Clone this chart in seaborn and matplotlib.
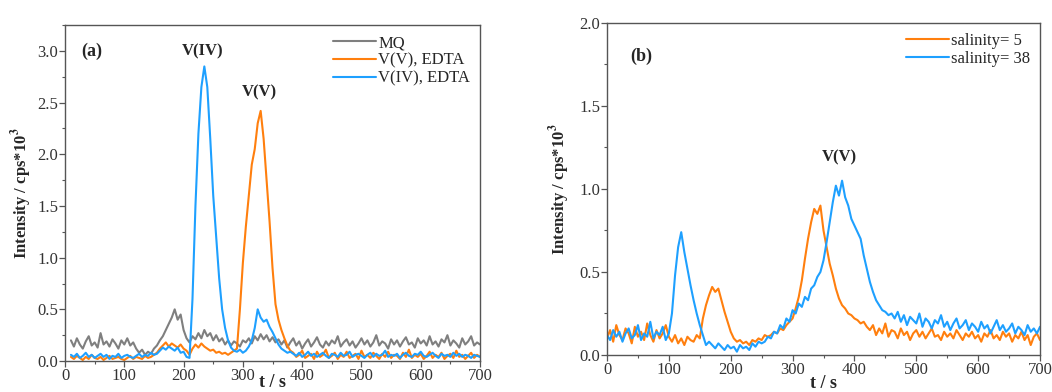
import numpy as np
import pandas as pd
import matplotlib
matplotlib.use("Agg")
import matplotlib.pyplot as plt
import seaborn as sns
from matplotlib.ticker import MultipleLocator

# ---- data ----
# panel (a): time axis, 10 .. 700 s every 5 s
t_a = np.arange(10, 701, 5)

mq = [
    0.20, 0.14, 0.22, 0.16, 0.12, 0.19, 0.24, 0.15, 0.18, 0.13, 0.27, 0.16, 0.19, 0.14, 0.21, 0.17, 0.12, 0.20, 0.16, 0.22, 0.15, 0.18,
    0.12, 0.08, 0.11, 0.06, 0.09, 0.07, 0.12,
    0.15, 0.20, 0.24, 0.30, 0.36, 0.42, 0.50, 0.40, 0.45, 0.30, 0.22,
    0.18, 0.24, 0.21, 0.27, 0.22, 0.30, 0.24, 0.27, 0.20, 0.25, 0.19, 0.22, 0.16, 0.20, 0.15, 0.19, 0.17, 0.14, 0.20,
    0.18, 0.22, 0.17, 0.24, 0.20, 0.26, 0.21, 0.25, 0.19, 0.23, 0.18, 0.21,
    0.16, 0.20, 0.13, 0.18, 0.22, 0.15, 0.19, 0.12, 0.17, 0.21, 0.14, 0.18, 0.23, 0.16, 0.13, 0.19, 0.15, 0.20, 0.17, 0.24,
    0.14, 0.18, 0.21, 0.15, 0.19, 0.13, 0.17, 0.22, 0.16, 0.20, 0.14, 0.18, 0.25, 0.15, 0.19, 0.17, 0.12, 0.21, 0.16, 0.20,
    0.14, 0.19, 0.23, 0.16, 0.18, 0.13, 0.22, 0.17, 0.20, 0.15, 0.24, 0.16, 0.19, 0.14, 0.21, 0.18, 0.25, 0.15, 0.20, 0.17,
    0.13, 0.22, 0.16, 0.19, 0.24, 0.15, 0.18, 0.16,
]

v5_edta = [
    0.04, 0.02, 0.05, 0.03, 0.01, 0.04, 0.02, 0.06, 0.03, 0.02,
    0.04, 0.01, 0.03, 0.05, 0.02, 0.03, 0.04, 0.02, 0.01, 0.03,
    0.05, 0.02, 0.04, 0.03, 0.02, 0.05, 0.03, 0.04, 0.06,
    0.08, 0.12, 0.15, 0.18, 0.14, 0.17, 0.15, 0.13, 0.16, 0.12, 0.10, 0.06,
    0.12, 0.16, 0.13, 0.17, 0.14, 0.12, 0.10, 0.11, 0.08, 0.09, 0.07, 0.08, 0.06, 0.08, 0.10,
    0.12, 0.50, 0.95, 1.30, 1.60, 1.90, 2.05, 2.30, 2.42, 2.15, 1.75, 1.35, 0.90, 0.55, 0.40, 0.30, 0.22, 0.15, 0.10,
    0.08, 0.04, 0.06, 0.10, 0.03, 0.05, 0.07, 0.02, 0.09, 0.04, 0.06, 0.11, 0.03, 0.05, 0.08, 0.02, 0.06, 0.04, 0.09, 0.03,
    0.05, 0.07, 0.02, 0.10, 0.04, 0.06, 0.03, 0.08, 0.05, 0.02, 0.07, 0.04, 0.09, 0.03, 0.06, 0.05, 0.02, 0.08, 0.04, 0.11,
    0.03, 0.06, 0.04, 0.07, 0.02, 0.05, 0.09, 0.03, 0.06, 0.04, 0.08, 0.02, 0.05, 0.07, 0.03, 0.10, 0.04, 0.06, 0.02, 0.05,
    0.08, 0.03, 0.06, 0.04,
]

v4_edta = [
    0.06, 0.04, 0.07, 0.03, 0.05, 0.08, 0.04, 0.06, 0.03, 0.05,
    0.07, 0.04, 0.06, 0.02, 0.05, 0.04, 0.07, 0.03, 0.05, 0.06,
    0.04, 0.03, 0.05, 0.07, 0.04, 0.06, 0.05, 0.08, 0.06,
    0.07, 0.10, 0.13, 0.11, 0.14, 0.12, 0.10, 0.13, 0.08, 0.09, 0.04, 0.03,
    0.60, 1.50, 2.20, 2.65, 2.85, 2.65, 2.15, 1.60, 1.20, 0.80, 0.50, 0.32, 0.20, 0.13, 0.10,
    0.09, 0.11, 0.08, 0.10, 0.14, 0.20, 0.32, 0.50, 0.42, 0.38, 0.40, 0.33, 0.28, 0.22, 0.16, 0.12, 0.10, 0.08, 0.09,
    0.07, 0.05, 0.08, 0.04, 0.06, 0.09, 0.05, 0.07, 0.04, 0.06, 0.08, 0.05, 0.03, 0.07, 0.06, 0.04, 0.08, 0.05, 0.06, 0.09,
    0.04, 0.06, 0.07, 0.05, 0.03, 0.06, 0.08, 0.04, 0.07, 0.05, 0.06, 0.10, 0.04, 0.06, 0.05, 0.07, 0.03, 0.06, 0.08, 0.05,
    0.04, 0.07, 0.06, 0.09, 0.05, 0.04, 0.06, 0.08, 0.05, 0.03, 0.07, 0.05, 0.06, 0.04, 0.08, 0.05, 0.07, 0.04, 0.06, 0.05,
    0.03, 0.06, 0.05, 0.04,
]

# panel (b): time axis, 0 .. 700 s every 5 s
t_b = np.arange(0, 701, 5)

sal5 = [
    0.10, 0.15, 0.08, 0.18, 0.12, 0.09, 0.16, 0.13, 0.07, 0.17, 0.11, 0.14, 0.09, 0.19, 0.12, 0.08, 0.15, 0.10, 0.13, 0.18, 0.11,
    0.08, 0.12, 0.07, 0.10, 0.06, 0.11, 0.09, 0.08, 0.12, 0.10,
    0.22, 0.30, 0.36, 0.41, 0.38, 0.40, 0.33, 0.26, 0.20, 0.14,
    0.10, 0.08, 0.09, 0.07, 0.08, 0.06, 0.09, 0.08, 0.10, 0.09, 0.12, 0.11,
    0.12, 0.14, 0.13, 0.16, 0.15, 0.18, 0.20, 0.22,
    0.28, 0.35, 0.45, 0.58, 0.70, 0.80, 0.88, 0.85, 0.90, 0.75, 0.65, 0.55, 0.48, 0.40, 0.34, 0.30, 0.28, 0.25, 0.24, 0.22, 0.21, 0.19, 0.20, 0.17,
    0.15, 0.18, 0.12, 0.16, 0.13, 0.19, 0.11, 0.15, 0.14, 0.10, 0.16, 0.12, 0.14, 0.09, 0.13, 0.15, 0.11, 0.14, 0.10, 0.13,
    0.16, 0.11, 0.12, 0.09, 0.14, 0.11, 0.13, 0.10, 0.15, 0.12, 0.09, 0.13, 0.11, 0.14, 0.10, 0.12, 0.08, 0.13, 0.11, 0.15,
    0.10, 0.12, 0.09, 0.14, 0.11, 0.13, 0.08, 0.12, 0.10, 0.14, 0.09, 0.12, 0.06, 0.11, 0.13, 0.09,
]

sal38 = [
    0.12, 0.09, 0.15, 0.11, 0.14, 0.08, 0.13, 0.16, 0.10, 0.12, 0.18, 0.09, 0.13, 0.11, 0.20, 0.10, 0.14, 0.12, 0.17, 0.09, 0.13,
    0.25, 0.48, 0.65, 0.74, 0.62, 0.52, 0.42, 0.33, 0.25, 0.18, 0.12, 0.06,
    0.08, 0.06, 0.04, 0.07, 0.05, 0.03, 0.06, 0.04, 0.05, 0.02, 0.06, 0.04, 0.05, 0.03, 0.07, 0.05, 0.08, 0.07,
    0.08, 0.11, 0.10, 0.14, 0.13, 0.18, 0.16, 0.22, 0.20, 0.27, 0.25, 0.31, 0.29, 0.35, 0.33, 0.40, 0.42, 0.47, 0.50, 0.57,
    0.68, 0.80, 0.92, 1.02, 0.96, 1.05, 0.95, 0.90, 0.82, 0.78, 0.74, 0.70, 0.60, 0.52, 0.44, 0.38, 0.33, 0.30, 0.27, 0.26, 0.24, 0.25,
    0.22, 0.26, 0.20, 0.24, 0.18, 0.23, 0.21, 0.19, 0.25, 0.17, 0.22, 0.20, 0.16, 0.21, 0.19, 0.24, 0.17, 0.20, 0.15, 0.19,
    0.22, 0.16, 0.18, 0.21, 0.15, 0.19, 0.17, 0.14, 0.20, 0.16, 0.18, 0.13, 0.17, 0.21, 0.15, 0.18, 0.14, 0.16, 0.19, 0.13,
    0.17, 0.15, 0.12, 0.18, 0.14, 0.16, 0.13, 0.17,
]

labels_a = ["MQ", "V(V), EDTA", "V(IV), EDTA"]
labels_b = ["salinity= 5", "salinity= 38"]

GREY = "#7f7f7f"
ORANGE = "#ff7f0e"
BLUE = "#1ea0ff"

# ---- style ----
sns.set_style("ticks")
plt.rcParams['font.family'] = ['Liberation Serif', 'DejaVu Serif']
plt.rcParams['mathtext.fontset'] = 'stix'
plt.rcParams['axes.edgecolor'] = '#555555'
plt.rcParams['xtick.color'] = '#555555'
plt.rcParams['ytick.color'] = '#555555'
plt.rcParams['xtick.labelcolor'] = '#333333'
plt.rcParams['ytick.labelcolor'] = '#333333'

df_a = pd.DataFrame({"t": np.tile(t_a, 3),
                     "I": mq + v5_edta + v4_edta,
                     "s": np.repeat(labels_a, len(t_a))})
df_b = pd.DataFrame({"t": np.tile(t_b, 2),
                     "I": sal5 + sal38,
                     "s": np.repeat(labels_b, len(t_b))})

fig = plt.figure(figsize=(10.52, 3.92), dpi=100)
ax1 = fig.add_axes([0.0618, 0.079, 0.3945, 0.857])
ax2 = fig.add_axes([0.577, 0.0944, 0.4116, 0.847])

sns.lineplot(data=df_a, x="t", y="I", hue="s", palette=[GREY, ORANGE, BLUE],
             linewidth=1.5, ax=ax1, estimator=None, sort=False)
sns.lineplot(data=df_b, x="t", y="I", hue="s", palette=[ORANGE, BLUE],
             linewidth=1.5, ax=ax2, estimator=None, sort=False)

ylab = r"Intensity / cps*10$^\mathbf{3}$"
for ax in (ax1, ax2):
    ax.set_xlim(0, 700)
    ax.xaxis.set_major_locator(MultipleLocator(100))
    ax.xaxis.set_minor_locator(MultipleLocator(50))
    ax.yaxis.set_minor_locator(MultipleLocator(0.25))
    ax.yaxis.set_major_locator(MultipleLocator(0.5))
    ax.tick_params(which='major', direction='out', length=4, width=0.9, labelsize=12, pad=1)
    ax.tick_params(which='minor', direction='out', length=2, width=0.8)
    for sp in ax.spines.values():
        sp.set_visible(True)
        sp.set_linewidth(1.0)
    ax.set_ylabel(ylab, fontsize=12, fontweight='bold')
    ax.legend(loc='upper right', frameon=False, fontsize=12, handlelength=2.6,
              handletextpad=0.1, labelspacing=0.1, borderaxespad=0.2)

ax1.set_xlabel("t / s", fontsize=13, fontweight='bold', labelpad=-7)
ax2.set_xlabel("t / s", fontsize=13, fontweight='bold', labelpad=-2)
ax1.set_ylim(0, 3.25)
ax2.set_ylim(0, 2.0)
ax1.yaxis.set_label_coords(-0.075, 0.5)
ax2.yaxis.set_label_coords(-0.08, 0.5)

ax1.text(45, 3.0, "(a)", fontsize=13, fontweight='bold', ha='center', va='center')
ax1.text(232, 3.0, "V(IV)", fontsize=12, fontweight='bold', ha='center', va='center')
ax1.text(327, 2.6, "V(V)", fontsize=12, fontweight='bold', ha='center', va='center')
ax2.text(55, 1.8, "(b)", fontsize=13, fontweight='bold', ha='center', va='center')
ax2.text(376, 1.19, "V(V)", fontsize=12, fontweight='bold', ha='center', va='center')

fig.savefig("out.png", dpi=100)
